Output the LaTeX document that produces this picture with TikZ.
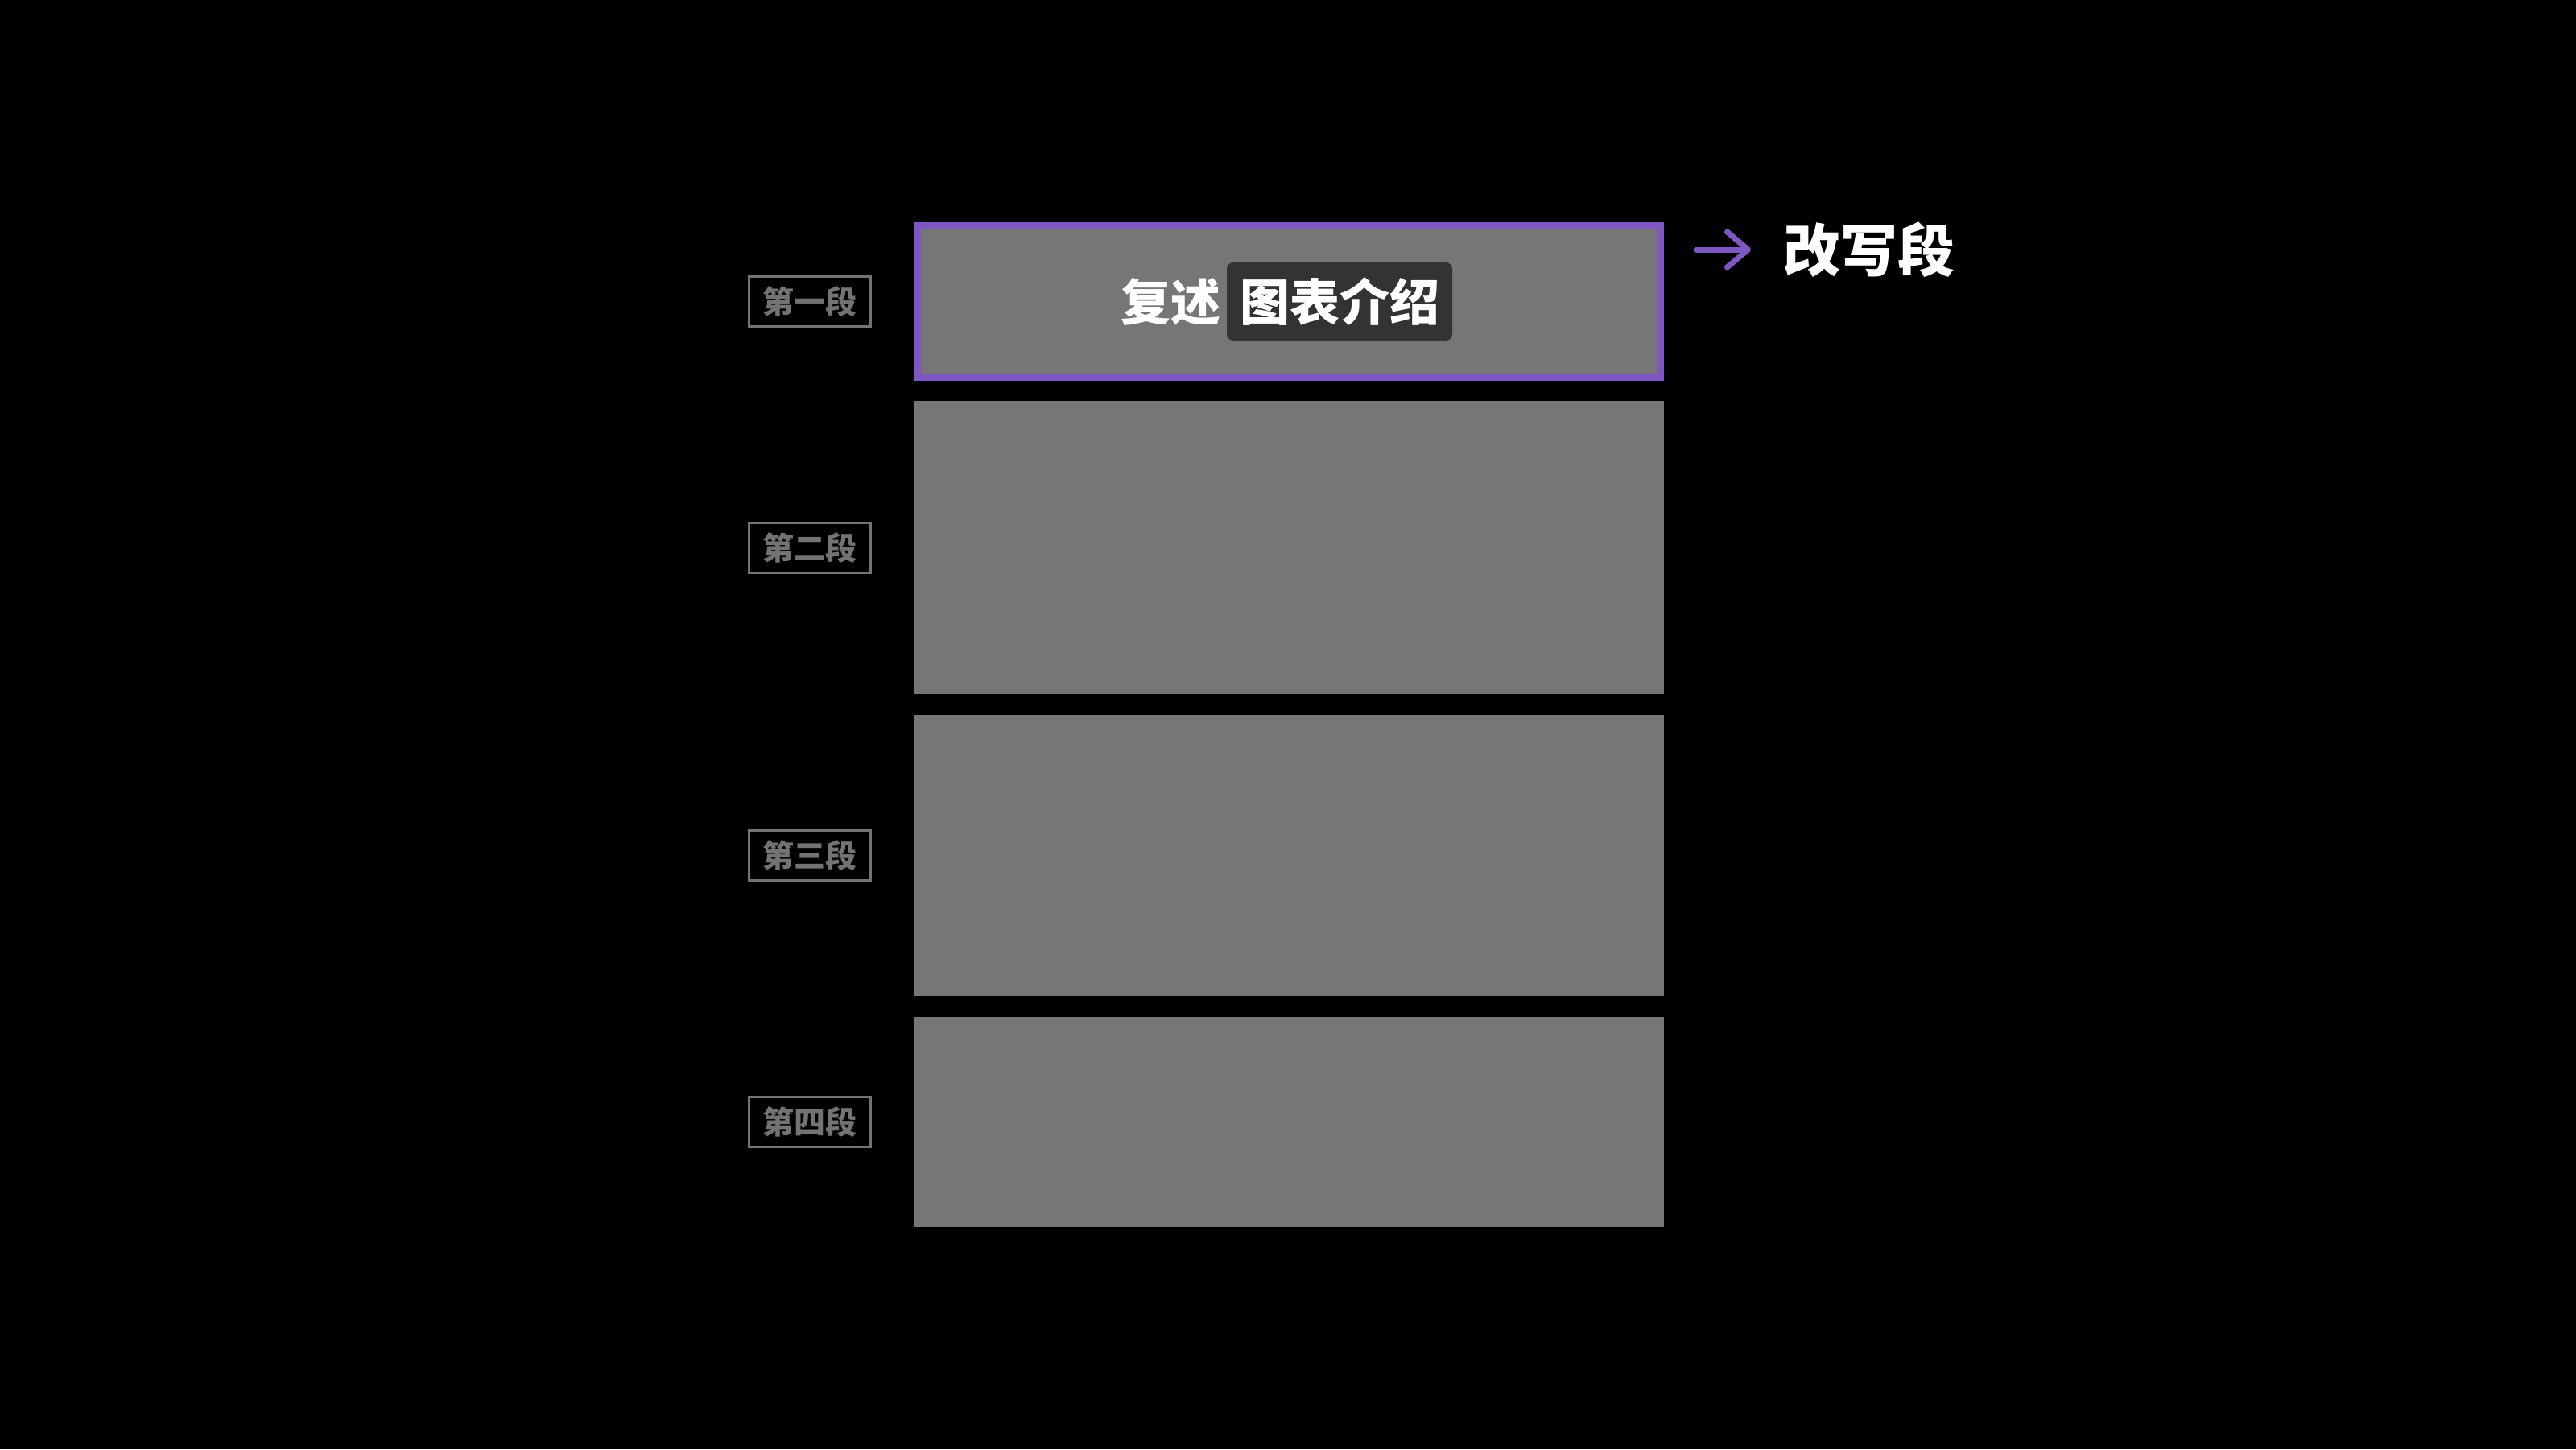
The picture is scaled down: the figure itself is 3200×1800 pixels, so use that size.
\documentclass[tikz,border=0pt]{standalone}
\usepackage{fontspec}
\setmainfont{Noto Sans CJK SC}
\usepackage{tikz}
\usetikzlibrary{positioning, arrows.meta, calc}
\usepackage{xcolor}
\definecolor{segpurple}{HTML}{7E57C2}
\definecolor{seggray}{HTML}{767676}
\definecolor{taggray}{HTML}{737373}
\definecolor{hldark}{HTML}{333333}

\begin{document}
\begin{tikzpicture}[x=1pt, y=-1pt, >=stealth, node distance=25pt]
    \tikzstyle{seg}=[fill=seggray, inner sep=0pt, minimum width=931pt]
    \tikzstyle{tag}=[draw=taggray, line width=3pt, text=taggray, inner sep=0pt,
        minimum width=151pt, minimum height=62pt,
        font=\fontsize{39pt}{39pt}\selectfont\bfseries]
    \tikzstyle{big}=[text=white, inner sep=0pt,
        font=\fontsize{62pt}{62pt}\selectfont\bfseries]

    % Background (fixes the page size)
    \fill[black] (0,0) rectangle (3200,1800);

    % Paragraph blocks
    \node (rec1)[seg, draw=segpurple, line width=8pt, minimum width=923pt, minimum height=189pt] at (1601.5,374.5) {};
    \node (rec2)[seg, minimum height=364pt, below=of rec1] {};
    \node (rec3)[seg, minimum height=349pt, below=of rec2] {};
    \node (rec4)[seg, minimum height=261pt, below=26pt of rec3] {};

    % Paragraph tags
    \node (tag1)[tag, left=53pt of rec1] {第一段};
    \node (tag2)[tag, left=53pt of rec2] {第二段};
    \node (tag3)[tag, left=53pt of rec3] {第三段};
    \node (tag4)[tag, left=53pt of rec4] {第四段};

    % Text in the first block
    \node (hl)[big, fill=hldark, rounded corners=8pt, inner xsep=16pt, minimum height=97pt]
        at ([xshift=62.5pt]rec1.center) {图表介绍};
    \node (fs)[big, left=7pt of hl] {复述};

    % Rewrite hint
    \node (gx)[big, anchor=west, font=\fontsize{71pt}{71pt}\selectfont\bfseries] at (2215,310) {改写段};
    \coordinate (ga) at (2107,310);
    \draw[segpurple, line width=7pt, line cap=round, -{Straight Barb[length=26pt, width=44pt, round]},
        shorten >=40pt] (ga) -- (gx.west);
\end{tikzpicture}
\end{document}
